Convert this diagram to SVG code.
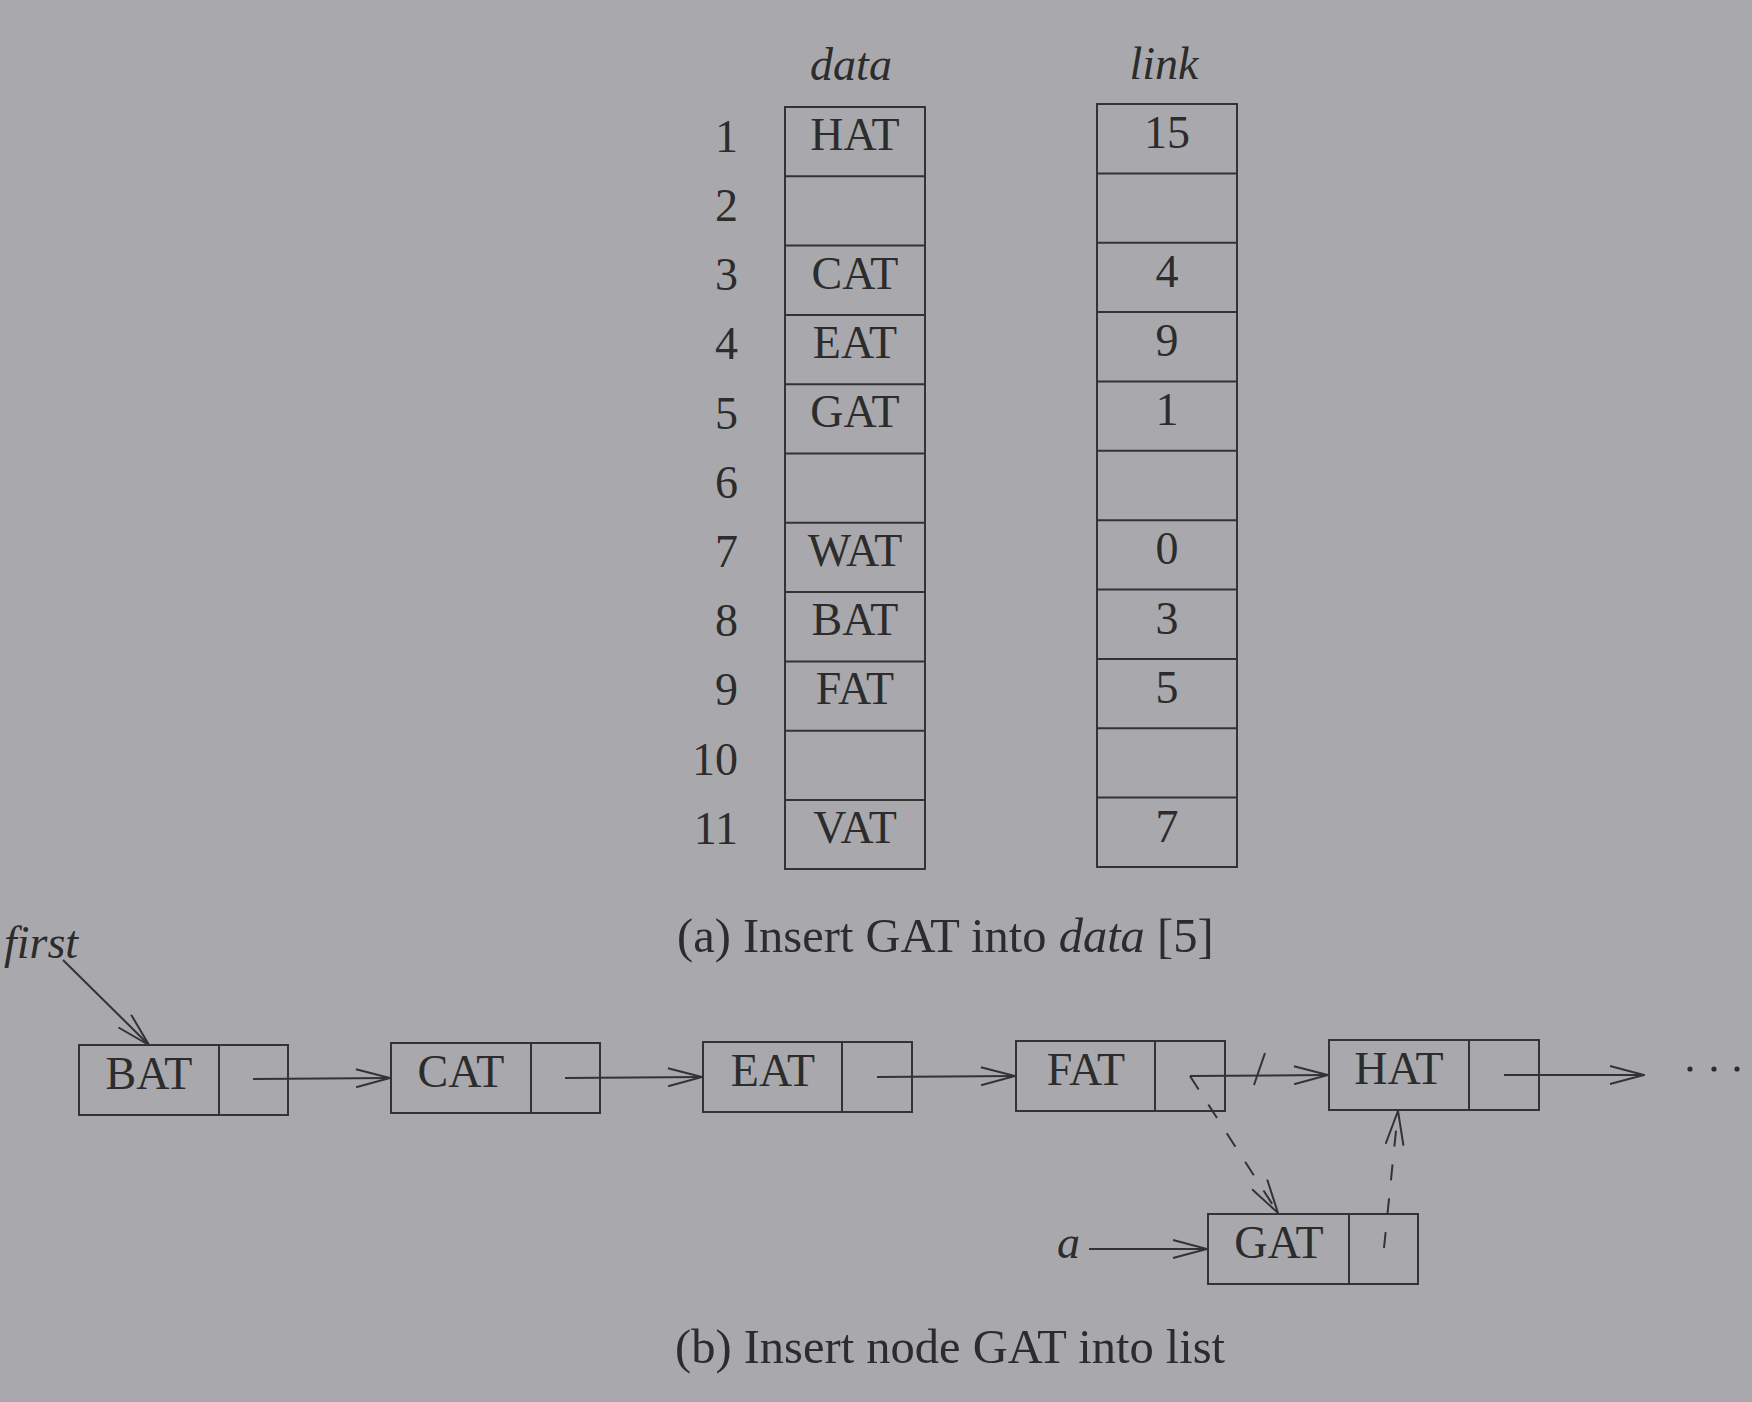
<svg xmlns="http://www.w3.org/2000/svg" width="1752" height="1402" viewBox="0 0 1752 1402">
<style>
.bg{fill:#a9a9ad}
.box{fill:none;stroke:#333;stroke-width:2}
.t{font-family:"Liberation Serif","Times New Roman",serif;font-size:46px;fill:#2c2c2c}
.c{text-anchor:middle}
.e{text-anchor:end}
.i{font-style:italic}
.cap{font-family:"Liberation Serif","Times New Roman",serif;font-size:48.5px;fill:#2c2c2c}
.ln{fill:none;stroke:#333;stroke-width:2}
.dash{fill:none;stroke:#333;stroke-width:2;stroke-dasharray:16 18}
</style>
<defs>
<marker id="arr" markerUnits="userSpaceOnUse" viewBox="0 0 36 20" markerWidth="36" markerHeight="20" refX="35" refY="10" orient="auto">
<path d="M1,1 L35,10 L1,19" fill="none" stroke="#333" stroke-width="2" stroke-dasharray="none"/>
</marker>
</defs>
<rect class="bg" x="0" y="0" width="1752" height="1402"/>

<g id="table-a">
<text class="t c i" x="851" y="80">data</text>
<text class="t c i" x="1164" y="79">link</text>
<g id="row-labels">
<text class="t e" x="738" y="152">1</text>
<text class="t e" x="738" y="221">2</text>
<text class="t e" x="738" y="290">3</text>
<text class="t e" x="738" y="359">4</text>
<text class="t e" x="738" y="429">5</text>
<text class="t e" x="738" y="498">6</text>
<text class="t e" x="738" y="567">7</text>
<text class="t e" x="738" y="636">8</text>
<text class="t e" x="738" y="705">9</text>
<text class="t e" x="738" y="775">10</text>
<text class="t e" x="738" y="844">11</text>
</g>
<g id="data-col">
<rect class="box" x="785" y="107" width="140" height="762"/>
<path class="ln" d="M785,176.3H925M785,245.6H925M785,314.9H925M785,384.2H925M785,453.5H925M785,522.8H925M785,592.1H925M785,661.4H925M785,730.7H925M785,800H925"/>
<text class="t c" x="855" y="150">HAT</text>
<text class="t c" x="855" y="289">CAT</text>
<text class="t c" x="855" y="358">EAT</text>
<text class="t c" x="855" y="427">GAT</text>
<text class="t c" x="855" y="566">WAT</text>
<text class="t c" x="855" y="635">BAT</text>
<text class="t c" x="855" y="704">FAT</text>
<text class="t c" x="855" y="843">VAT</text>
</g>
<g id="link-col">
<rect class="box" x="1097" y="104" width="140" height="763"/>
<path class="ln" d="M1097,173.4H1237M1097,242.7H1237M1097,312.1H1237M1097,381.5H1237M1097,450.8H1237M1097,520.2H1237M1097,589.6H1237M1097,658.9H1237M1097,728.3H1237M1097,797.6H1237"/>
<text class="t c" x="1167" y="148">15</text>
<text class="t c" x="1167" y="287">4</text>
<text class="t c" x="1167" y="356">9</text>
<text class="t c" x="1167" y="425">1</text>
<text class="t c" x="1167" y="564">0</text>
<text class="t c" x="1167" y="634">3</text>
<text class="t c" x="1167" y="703">5</text>
<text class="t c" x="1167" y="842">7</text>
</g>
<text class="cap" x="677" y="952">(a) Insert GAT into <tspan font-style="italic">data</tspan> [5]</text>
</g>

<g id="node-BAT">
<rect class="box" x="79" y="1045" width="209" height="70"/>
<line class="ln" x1="219" y1="1045" x2="219" y2="1115"/>
<text class="t c" x="149" y="1089">BAT</text>
</g>
<g id="node-CAT">
<rect class="box" x="391" y="1043" width="209" height="70"/>
<line class="ln" x1="531" y1="1043" x2="531" y2="1113"/>
<text class="t c" x="461" y="1087">CAT</text>
</g>
<g id="node-EAT">
<rect class="box" x="703" y="1042" width="209" height="70"/>
<line class="ln" x1="842" y1="1042" x2="842" y2="1112"/>
<text class="t c" x="773" y="1086">EAT</text>
</g>
<g id="node-FAT">
<rect class="box" x="1016" y="1041" width="209" height="70"/>
<line class="ln" x1="1155" y1="1041" x2="1155" y2="1111"/>
<text class="t c" x="1086" y="1085">FAT</text>
</g>
<g id="node-HAT">
<rect class="box" x="1329" y="1040" width="210" height="70"/>
<line class="ln" x1="1469" y1="1040" x2="1469" y2="1110"/>
<text class="t c" x="1399" y="1084">HAT</text>
</g>
<g id="node-GAT">
<rect class="box" x="1208" y="1214" width="210" height="70"/>
<line class="ln" x1="1349" y1="1214" x2="1349" y2="1284"/>
<text class="t c" x="1279" y="1258">GAT</text>
</g>

<g id="labels">
<text class="t i" x="4" y="958">first</text>
<text class="t i" x="1057" y="1258">a</text>
<circle cx="1690" cy="1069" r="2.6" fill="#2c2c2c"/>
<circle cx="1714" cy="1069" r="2.6" fill="#2c2c2c"/>
<circle cx="1737" cy="1069" r="2.6" fill="#2c2c2c"/>
<text class="cap" x="675" y="1363">(b) Insert node GAT into list</text>
</g>

<g id="connectors">
<line class="ln" x1="63" y1="960" x2="149" y2="1045" marker-end="url(#arr)"/>
<line class="ln" x1="253" y1="1079" x2="390" y2="1078" marker-end="url(#arr)"/>
<line class="ln" x1="565" y1="1078" x2="702" y2="1077" marker-end="url(#arr)"/>
<line class="ln" x1="877" y1="1077" x2="1015" y2="1076" marker-end="url(#arr)"/>
<line class="ln" x1="1190" y1="1076" x2="1328" y2="1075" marker-end="url(#arr)"/>
<line class="ln" x1="1265" y1="1053" x2="1254" y2="1085"/>
<line class="ln" x1="1504" y1="1075" x2="1644" y2="1075" marker-end="url(#arr)"/>
<line class="ln" x1="1089" y1="1249" x2="1207" y2="1249" marker-end="url(#arr)"/>
<line class="dash" x1="1190" y1="1076" x2="1278" y2="1213" marker-end="url(#arr)"/>
<line class="dash" x1="1384" y1="1248" x2="1398" y2="1111" marker-end="url(#arr)"/>
</g>
</svg>
